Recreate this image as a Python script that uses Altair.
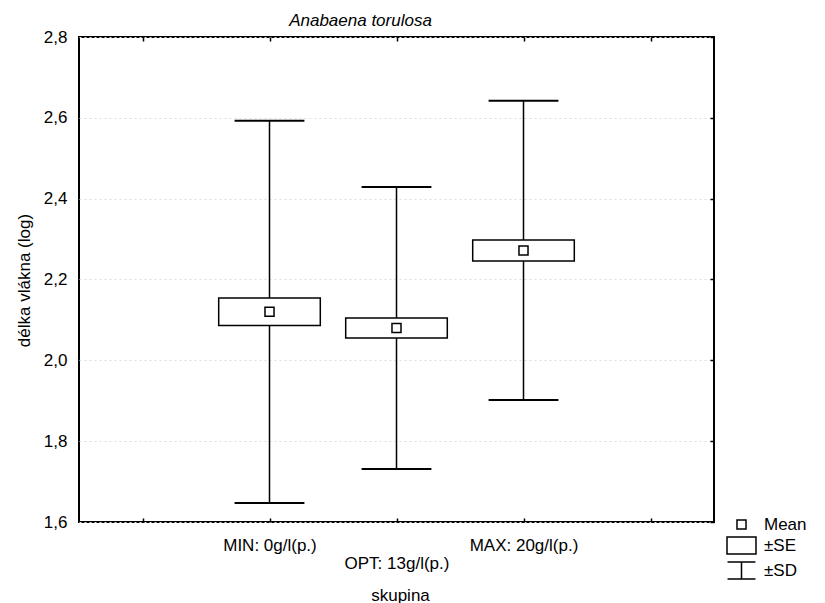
import altair as alt
import pandas as pd

# Group labels and their positions on the x axis (ticks run 1..5)
groups = ["MIN: 0g/l(p.)", "OPT: 13g/l(p.)", "MAX: 20g/l(p.)"]
group_pos = [2, 3, 4]

# Summary statistics of log filament length per group
means = [2.120, 2.080, 2.272]
se = [0.034, 0.025, 0.026]
sd = [0.473, 0.349, 0.370]

# Axis ticks
x_ticks = [1, 2, 3, 4, 5]
y_ticks = [1.6, 1.8, 2.0, 2.2, 2.4, 2.6, 2.8]

legend_keys = ["Mean", "±SE", "±SD"]

FONT = "Liberation Sans"
BOX_HALF = 0.40   # half width of the ±SE box, in x units
CAP_HALF = 0.275  # half width of the ±SD caps, in x units
W, H = 635, 485

df = pd.DataFrame({
    "group": groups,
    "pos": group_pos,
    "mean": means,
    "se": se,
    "sd": sd,
})
df["se_lo"] = df["mean"] - df["se"]
df["se_hi"] = df["mean"] + df["se"]
df["sd_lo"] = df["mean"] - df["sd"]
df["sd_hi"] = df["mean"] + df["sd"]
df["box_l"] = df["pos"] - BOX_HALF
df["box_r"] = df["pos"] + BOX_HALF
df["cap_l"] = df["pos"] - CAP_HALF
df["cap_r"] = df["pos"] + CAP_HALF
df["key"] = "Mean"

xs = alt.Scale(domain=[0.5, 5.5], nice=False, zero=False)
ys = alt.Scale(domain=[1.6, 2.8], nice=False, zero=False)

# x labels: group names at their positions, the middle one dropped a line
label_expr = ""
for i, (p, g) in enumerate(zip(group_pos, groups)):
    text = f"['', '{g}']" if i == 1 else f"'{g}'"
    label_expr += f"datum.value == {p} ? {text} : "
label_expr += "''"

x_label_axis = alt.Axis(
    orient="bottom", values=x_ticks, labelExpr=label_expr, ticks=False,
    tickSize=0, domain=False, grid=False, labelOverlap=False, labelBound=False,
    labelFont=FONT, labelFontSize=17, labelColor="black", labelBaseline="top",
    labelPadding=15, labelLineHeight=18, labelFlush=False,
    title="skupina", titleFont=FONT, titleFontSize=17, titleFontWeight="normal",
    titleColor="black", titleX=321, titleY=78, titleBaseline="alphabetic",
    titleAnchor="middle",
)
y_label_axis = alt.Axis(
    orient="left", values=y_ticks,
    labelExpr="replace(format(datum.value, '.1f'), '.', ',')",
    ticks=False, tickSize=0, domain=False, grid=True, gridColor="#dedede",
    gridDash=[2, 3], gridWidth=1, labelFont=FONT, labelFontSize=17,
    labelColor="black", labelPadding=12, labelOverlap=False,
    title="délka vlákna (log)", titleFont=FONT, titleFontSize=17,
    titleFontWeight="normal", titleColor="black", titleX=-50, titleY=243,
    titleBaseline="alphabetic", titleAnchor="middle",
)


def tick_axis(orient, offset, values):
    # tick-only axis pushed across the plot so its ticks point inward
    return alt.Axis(
        orient=orient, offset=offset, values=values, labels=False,
        domain=False, grid=False, ticks=True, tickSize=4, tickWidth=1.5,
        tickColor="black", title=None,
    )


base = alt.Chart(df)

whiskers = base.mark_rule(color="black", strokeWidth=1.5).encode(
    x=alt.X("pos:Q", scale=xs, axis=x_label_axis),
    y=alt.Y("sd_lo:Q", scale=ys, axis=y_label_axis),
    y2="sd_hi:Q",
)

caps_low = base.mark_rule(color="black", strokeWidth=2).encode(
    x=alt.X("cap_l:Q", scale=xs, axis=tick_axis("top", -H, x_ticks)),
    x2="cap_r:Q",
    y=alt.Y("sd_lo:Q", scale=ys, axis=tick_axis("left", -W, y_ticks)),
)

caps_high = base.mark_rule(color="black", strokeWidth=2).encode(
    x=alt.X("cap_l:Q", scale=xs, axis=tick_axis("bottom", -H, x_ticks)),
    x2="cap_r:Q",
    y=alt.Y("sd_hi:Q", scale=ys, axis=None),
)

boxes = base.mark_rect(fill="white", stroke="black", strokeWidth=1.5).encode(
    x=alt.X("box_l:Q", scale=xs, axis=None),
    x2="box_r:Q",
    y=alt.Y("se_lo:Q", scale=ys, axis=None),
    y2="se_hi:Q",
)

# symbol paths (unit = sqrt(size)/2 px); shared by the mean marker and legend
shape_paths = [
    "M-0.43,-0.43H0.43V0.43H-0.43Z",
    "M-1.38,-0.81H1.38V0.81H-1.38Z",
    "M-1.33,-0.81H1.33M0,-0.81V0.81M-1.33,0.81H1.33",
]

mean_pts = base.mark_point(
    filled=True, color="white", fill="white", stroke="black",
    strokeWidth=1.5, size=441, opacity=1,
).encode(
    x=alt.X("pos:Q", scale=xs, axis=None),
    y=alt.Y("mean:Q", scale=ys, axis=None),
    shape=alt.Shape(
        "key:N",
        scale=alt.Scale(domain=legend_keys, range=shape_paths),
        legend=alt.Legend(
            title=None, orient="none", legendX=651, legendY=476,
            values=legend_keys, symbolSize=441, symbolStrokeWidth=1.5,
            symbolOpacity=1, labelFont=FONT, labelFontSize=17,
            labelColor="black", labelOffset=11, rowPadding=0, padding=0,
        ),
    ),
)

chart = (
    alt.layer(whiskers, caps_low, caps_high, boxes, mean_pts)
    .resolve_axis(x="independent", y="independent")
    .properties(
        width=W, height=H,
        title=alt.TitleParams(
            "Anabaena torulosa", font=FONT, fontSize=17, fontStyle="italic",
            fontWeight="normal", color="black", anchor="middle", frame="group",
            dx=-36, dy=27, offset=12, baseline="alphabetic",
        ),
        padding={"left": 79, "top": 37, "right": 111, "bottom": 81},
        autosize=alt.AutoSizeParams(type="none"),
        background="white",
    )
    .configure_view(stroke="black", strokeWidth=2)
)

chart.save("out.html", embed_options={"renderer": "svg", "actions": False})
